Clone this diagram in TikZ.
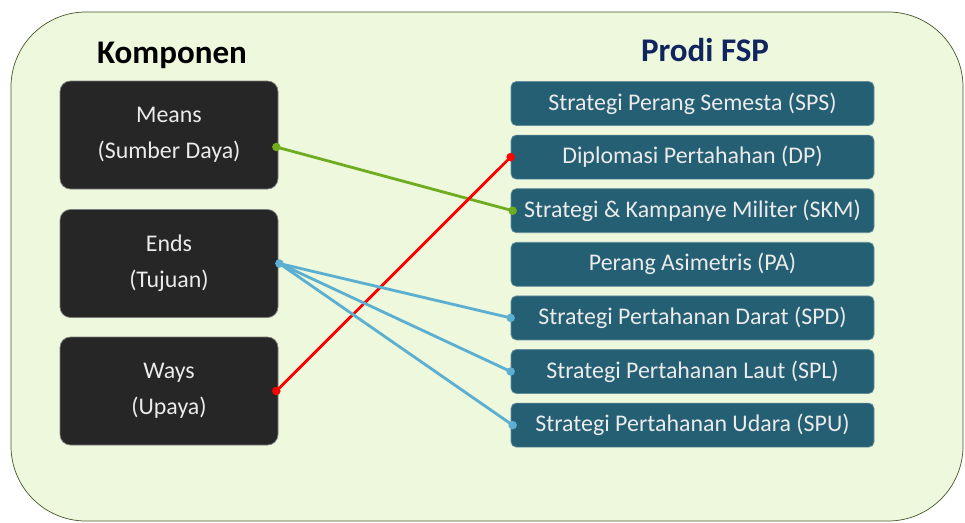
\documentclass[tikz,border=0pt]{standalone}
\usepackage{fontspec}
\setmainfont{Carlito}
\usetikzlibrary{positioning, calc, arrows.meta}

\definecolor{bgGreen}{RGB}{237,248,221}
\definecolor{bgLine}{RGB}{70,85,40}
\definecolor{darkBox}{RGB}{38,38,38}
\definecolor{tealBox}{RGB}{37,95,115}
\definecolor{navyTitle}{RGB}{16,36,94}
\definecolor{lineGreen}{RGB}{111,172,31}
\definecolor{lineBlue}{RGB}{91,175,208}
\definecolor{lineRed}{RGB}{255,0,0}

\begin{document}
\begin{tikzpicture}
\tikzset{komp/.style={
    rectangle, rounded corners=6pt, fill=darkBox, draw=darkBox!60!white, thin, text=white!92!black,
    minimum width=4.36cm, minimum height=2.16cm, align=center,
    font=\fontsize{13.6}{20.5}\selectfont},
    prodi/.style={
    rectangle, rounded corners=3pt, fill=tealBox, draw=tealBox!70!white, thin, text=white!92!black,
    minimum width=7.26cm, minimum height=0.88cm, inner sep=0pt,
    font=\fontsize{13.6}{16}\selectfont},
    judul/.style={font=\fontsize{18.8}{22}\selectfont\bfseries},
    link/.style={line width=1.6pt},
    dot/.style={circle, fill, inner sep=0pt, minimum size=0.17cm}
}

    \useasboundingbox (0,0) rectangle (19.3,-10.44);
    \draw[fill=bgGreen, draw=bgLine, rounded corners=1.5cm] (0.22,-0.24) rectangle (19.26,-10.42);

    % posisi kotak
    \coordinate (p_means) at (3.38,-2.7);
    \coordinate (p_ends) at ($(p_means) + (0,-2.57)$);
    \coordinate (p_ways) at ($(p_ends) + (0,-2.55)$);

    \coordinate (p_sps) at (13.85,-2.07);
    \coordinate (p_dp) at ($(p_sps) + (0,-1.072)$);
    \coordinate (p_skm) at ($(p_dp) + (0,-1.072)$);
    \coordinate (p_pa) at ($(p_skm) + (0,-1.072)$);
    \coordinate (p_spd) at ($(p_pa) + (0,-1.072)$);
    \coordinate (p_spl) at ($(p_spd) + (0,-1.072)$);
    \coordinate (p_spu) at ($(p_spl) + (0,-1.072)$);

    \path (3.44,-1.1) node[judul] (t_komp) {Komponen};
    \path (14.1,-1.0) node[judul, text=navyTitle] (t_prodi) {Prodi FSP};

    \path (p_means) node[komp] (means) {Means\\(Sumber Daya)};
    \path (p_ends) node[komp] (ends) {Ends\\(Tujuan)};
    \path (p_ways) node[komp] (ways) {Ways\\(Upaya)};

    \path (p_sps) node[prodi] (sps) {Strategi Perang Semesta (SPS)};
    \path (p_dp) node[prodi] (dp) {Diplomasi Pertahahan (DP)};
    \path (p_skm) node[prodi] (skm) {Strategi \& Kampanye Militer (SKM)};
    \path (p_pa) node[prodi] (pa) {Perang Asimetris (PA)};
    \path (p_spd) node[prodi] (spd) {Strategi Pertahanan Darat (SPD)};
    \path (p_spl) node[prodi] (spl) {Strategi Pertahanan Laut (SPL)};
    \path (p_spu) node[prodi] (spu) {Strategi Pertahanan Udara (SPU)};

    % garis penghubung
    \coordinate (c_means) at ($(means.east) + (-0.04,-0.24)$);
    \coordinate (c_ends) at ($(ends.east) + (0.02,0)$);
    \coordinate (c_ways) at ($(ways.east) + (-0.04,0)$);

    \draw[link, lineGreen] (c_means) node[dot]{} -- ($(skm.west)+(0.04,0)$) node[dot]{};
    \draw[link, lineRed] (c_ways) node[dot]{} -- (dp.west) node[dot]{};
    \draw[link, lineBlue] (c_ends) node[dot]{} -- (spd.west) node[dot]{};
    \draw[link, lineBlue] (c_ends) -- (spl.west) node[dot]{};
    \draw[link, lineBlue] (c_ends) -- ($(spu.west)+(0.04,0)$) node[dot]{};

\end{tikzpicture}
\end{document}
